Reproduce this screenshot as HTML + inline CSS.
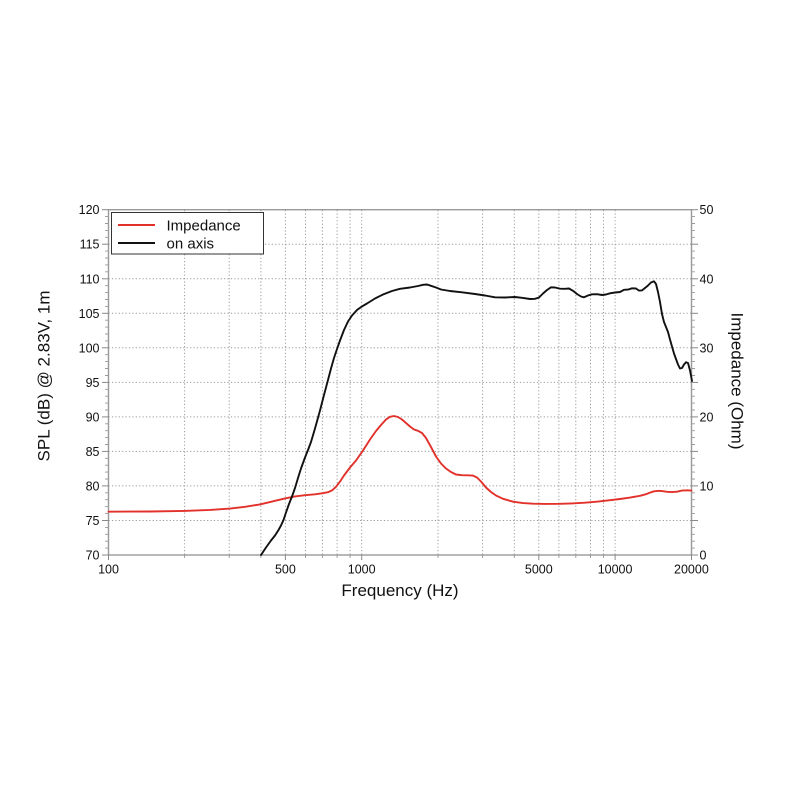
<!DOCTYPE html>
<html>
<head>
<meta charset="utf-8">
<style>
  html,body{margin:0;padding:0;background:#fff;}
  svg{display:block;}
  text{font-family:"Liberation Sans", Arial, sans-serif;fill:#111;}
</style>
</head>
<body>
<svg width="800" height="800" viewBox="0 0 800 800" xmlns="http://www.w3.org/2000/svg">
  <rect x="0" y="0" width="800" height="800" fill="#fff"/>

  <!-- vertical grid (dotted) -->
  <g stroke="#9a9a9a" stroke-width="1" stroke-dasharray="1.2,2.2">
    <line x1="184.6" y1="210" x2="184.6" y2="555"/>
    <line x1="229.2" y1="210" x2="229.2" y2="555"/>
    <line x1="260.9" y1="210" x2="260.9" y2="555"/>
    <line x1="285.4" y1="210" x2="285.4" y2="555"/>
    <line x1="305.5" y1="210" x2="305.5" y2="555"/>
    <line x1="322.4" y1="210" x2="322.4" y2="555"/>
    <line x1="337.1" y1="210" x2="337.1" y2="555"/>
    <line x1="350.1" y1="210" x2="350.1" y2="555"/>
    <line x1="361.7" y1="210" x2="361.7" y2="555"/>
    <line x1="438.0" y1="210" x2="438.0" y2="555"/>
    <line x1="482.6" y1="210" x2="482.6" y2="555"/>
    <line x1="514.3" y1="210" x2="514.3" y2="555"/>
    <line x1="538.8" y1="210" x2="538.8" y2="555"/>
    <line x1="558.9" y1="210" x2="558.9" y2="555"/>
    <line x1="575.8" y1="210" x2="575.8" y2="555"/>
    <line x1="590.5" y1="210" x2="590.5" y2="555"/>
    <line x1="603.5" y1="210" x2="603.5" y2="555"/>
    <line x1="615.1" y1="210" x2="615.1" y2="555"/>
  </g>
  <!-- horizontal grid (dotted) -->
  <g stroke="#9a9a9a" stroke-width="1" stroke-dasharray="1.2,2.2">
    <line x1="108.5" y1="244.2" x2="691.5" y2="244.2"/>
    <line x1="108.5" y1="278.8" x2="691.5" y2="278.8"/>
    <line x1="108.5" y1="313.3" x2="691.5" y2="313.3"/>
    <line x1="108.5" y1="347.8" x2="691.5" y2="347.8"/>
    <line x1="108.5" y1="382.4" x2="691.5" y2="382.4"/>
    <line x1="108.5" y1="416.9" x2="691.5" y2="416.9"/>
    <line x1="108.5" y1="451.4" x2="691.5" y2="451.4"/>
    <line x1="108.5" y1="485.9" x2="691.5" y2="485.9"/>
    <line x1="108.5" y1="520.5" x2="691.5" y2="520.5"/>
  </g>

  <!-- frame -->
  <rect x="108.5" y="209.7" width="583" height="345.3" fill="none" stroke="#9a9a9a" stroke-width="1.4"/>

  <!-- left ticks -->
  <g stroke="#888" stroke-width="1">
    <line x1="102" y1="209.7" x2="108.5" y2="209.7"/>
    <line x1="102" y1="244.2" x2="108.5" y2="244.2"/>
    <line x1="102" y1="278.8" x2="108.5" y2="278.8"/>
    <line x1="102" y1="313.3" x2="108.5" y2="313.3"/>
    <line x1="102" y1="347.8" x2="108.5" y2="347.8"/>
    <line x1="102" y1="382.4" x2="108.5" y2="382.4"/>
    <line x1="102" y1="416.9" x2="108.5" y2="416.9"/>
    <line x1="102" y1="451.4" x2="108.5" y2="451.4"/>
    <line x1="102" y1="485.9" x2="108.5" y2="485.9"/>
    <line x1="102" y1="520.5" x2="108.5" y2="520.5"/>
    <line x1="102" y1="555" x2="108.5" y2="555"/>
    <!-- right major -->
    <line x1="691.5" y1="209.7" x2="698" y2="209.7"/>
    <line x1="691.5" y1="244.2" x2="698" y2="244.2"/>
    <line x1="691.5" y1="278.8" x2="698" y2="278.8"/>
    <line x1="691.5" y1="313.3" x2="698" y2="313.3"/>
    <line x1="691.5" y1="347.8" x2="698" y2="347.8"/>
    <line x1="691.5" y1="382.4" x2="698" y2="382.4"/>
    <line x1="691.5" y1="416.9" x2="698" y2="416.9"/>
    <line x1="691.5" y1="451.4" x2="698" y2="451.4"/>
    <line x1="691.5" y1="485.9" x2="698" y2="485.9"/>
    <line x1="691.5" y1="520.5" x2="698" y2="520.5"/>
    <line x1="691.5" y1="555" x2="698" y2="555"/>
    <!-- bottom major -->
    <line x1="108.5" y1="555" x2="108.5" y2="560"/>
    <line x1="285.4" y1="555" x2="285.4" y2="560"/>
    <line x1="361.7" y1="555" x2="361.7" y2="560"/>
    <line x1="538.8" y1="555" x2="538.8" y2="560"/>
    <line x1="615.1" y1="555" x2="615.1" y2="560"/>
    <line x1="691.5" y1="555" x2="691.5" y2="560"/>
  </g>
  <!-- minor ticks -->
  <g stroke="#999" stroke-width="0.9">
    <path d="M105 216.6H108.5M105 223.5H108.5M105 230.4H108.5M105 237.3H108.5
             M105 251.1H108.5M105 258H108.5M105 264.9H108.5M105 271.8H108.5
             M105 285.7H108.5M105 292.6H108.5M105 299.5H108.5M105 306.4H108.5
             M105 320.2H108.5M105 327.1H108.5M105 334H108.5M105 340.9H108.5
             M105 354.7H108.5M105 361.6H108.5M105 368.5H108.5M105 375.5H108.5
             M105 389.3H108.5M105 396.2H108.5M105 403.1H108.5M105 410H108.5
             M105 423.8H108.5M105 430.7H108.5M105 437.6H108.5M105 444.5H108.5
             M105 458.3H108.5M105 465.2H108.5M105 472.1H108.5M105 479H108.5
             M105 492.8H108.5M105 499.7H108.5M105 506.7H108.5M105 513.6H108.5
             M105 527.4H108.5M105 534.3H108.5M105 541.2H108.5M105 548.1H108.5"/>
    <path d="M691.5 216.6H695M691.5 223.5H695M691.5 230.4H695M691.5 237.3H695
             M691.5 251.1H695M691.5 258H695M691.5 264.9H695M691.5 271.8H695
             M691.5 285.7H695M691.5 292.6H695M691.5 299.5H695M691.5 306.4H695
             M691.5 320.2H695M691.5 327.1H695M691.5 334H695M691.5 340.9H695
             M691.5 354.7H695M691.5 361.6H695M691.5 368.5H695M691.5 375.5H695
             M691.5 389.3H695M691.5 396.2H695M691.5 403.1H695M691.5 410H695
             M691.5 423.8H695M691.5 430.7H695M691.5 437.6H695M691.5 444.5H695
             M691.5 458.3H695M691.5 465.2H695M691.5 472.1H695M691.5 479H695
             M691.5 492.8H695M691.5 499.7H695M691.5 506.7H695M691.5 513.6H695
             M691.5 527.4H695M691.5 534.3H695M691.5 541.2H695M691.5 548.1H695"/>
    <path d="M184.6 555V558M229.2 555V558M260.9 555V558M305.5 555V558M322.4 555V558M337.1 555V558M350.1 555V558
             M438 555V558M482.6 555V558M514.3 555V558M558.9 555V558M575.8 555V558M590.5 555V558M603.5 555V558"/>
  </g>

  <!-- left tick labels -->
  <g font-size="12.5" text-anchor="end">
    <text x="99.5" y="214.2">120</text>
    <text x="99.5" y="248.7">115</text>
    <text x="99.5" y="283.3">110</text>
    <text x="99.5" y="317.8">105</text>
    <text x="99.5" y="352.3">100</text>
    <text x="99.5" y="386.9">95</text>
    <text x="99.5" y="421.4">90</text>
    <text x="99.5" y="455.9">85</text>
    <text x="99.5" y="490.4">80</text>
    <text x="99.5" y="525">75</text>
    <text x="99.5" y="559.5">70</text>
  </g>
  <!-- right tick labels -->
  <g font-size="12.5" text-anchor="start">
    <text x="699.5" y="214.2">50</text>
    <text x="699.5" y="283.3">40</text>
    <text x="699.5" y="352.3">30</text>
    <text x="699.5" y="421.4">20</text>
    <text x="699.5" y="490.4">10</text>
    <text x="699.5" y="559.5">0</text>
  </g>
  <!-- bottom tick labels -->
  <g font-size="12.5" text-anchor="middle">
    <text x="108.5" y="573.5">100</text>
    <text x="285.4" y="573.5">500</text>
    <text x="361.7" y="573.5">1000</text>
    <text x="538.8" y="573.5">5000</text>
    <text x="615.1" y="573.5">10000</text>
    <text x="691.4" y="573.5">20000</text>
  </g>

  <!-- axis titles -->
  <text x="400" y="596" font-size="17" text-anchor="middle">Frequency (Hz)</text>
  <text transform="translate(49.5,376) rotate(-90)" font-size="17" text-anchor="middle">SPL (dB) @ 2.83V, 1m</text>
  <text transform="translate(731.5,381) rotate(90)" font-size="17" text-anchor="middle">Impedance (Ohm)</text>

  <!-- impedance curve -->
  <polyline fill="none" stroke="#e2312a" stroke-width="1.9" stroke-linejoin="round" stroke-linecap="round"
    points="108.5,511.7 150,511.5 184,510.9 210,509.9 230,508.6 245,506.8 260,504.4 273,501.3 285,498.4 295,496.4 305,495.2 315,494.3 322,493.3 328,492.2 332,490.4 336,486.8 340,481.6 344,475.5 350,467.5 356,460.5 363,450.5 370,439.5 376,431 381,425 386,419.5 390,416.8 394,416 398,417 402,419.5 406,423 410,426.5 414,429.5 418,430.8 422,433 426,438 431,447 436,456.5 441,463.5 446,468.5 451,472 456,474.5 462,475.2 468,475.3 473,475.6 477,477.5 481,481.5 486,487.5 491,492 496,495.5 503,498.8 513,501.7 523,503.1 533,503.7 545,503.9 560,503.8 572,503.4 585,502.7 598,501.6 610,500.2 620,499 630,497.6 640,495.8 646,494.2 650,492.6 654,491.3 659,490.8 663,491.2 667,491.8 672,492.1 677,491.7 682,490.6 687,490.3 691.5,490.6"/>

  <!-- SPL curve -->
  <polyline fill="none" stroke="#111" stroke-width="1.9" stroke-linejoin="round" stroke-linecap="round"
    points="261,555 266,547.5 271,540.5 275,535.5 278.5,530 281,525.5 283.5,520 286,512.5 289,504 292,496.5 295,488 298,478 301,468.5 305,457.5 308,450 311,442 315,428.5 320,410.5 324,395 328,380 331,368.5 334,358 337,349 340,340.5 344,330 348,321.5 352,315.5 357,310 362,306.4 367,303.5 375,298.5 383,294.5 392,291 400,288.8 410,287.5 418,286 423,284.8 427,284.5 431,285.8 436,287.5 441,289.5 450,291 462,292.3 475,294 485,295.5 495,297.3 505,297.5 515,297 522,297.8 530,299 535,298.8 539,297.5 543,293.5 547,290 551,287.3 555,287.5 560,288.7 565,288.8 569,288.5 573,290.8 577,294 581,296.5 584,297.3 588,295.5 592,294.3 597,294.2 602,295 606,294.5 610,293.3 615,292.5 620,292 624,289.8 628,289.6 632,288.3 636,288.5 639,290.6 642,290.4 645,288 648,285.5 651,282.5 654,281.3 656,284 658,292 660,302 662,314 664,322 666,327 668,332 670,339.5 672,346.5 674,353.5 676,359 678,364.5 680,368.5 682,368 684,364.5 686,362.2 688,363 690,370.5 692,381"/>

  <!-- legend -->
  <rect x="111.5" y="212.5" width="152" height="41.5" fill="#fff" stroke="#333" stroke-width="1"/>
  <line x1="118" y1="225" x2="155" y2="225" stroke="#e2312a" stroke-width="1.9"/>
  <line x1="118" y1="243" x2="155" y2="243" stroke="#111" stroke-width="1.9"/>
  <text x="166.5" y="230.5" font-size="15">Impedance</text>
  <text x="166.5" y="248.5" font-size="15">on axis</text>
</svg>
</body>
</html>
